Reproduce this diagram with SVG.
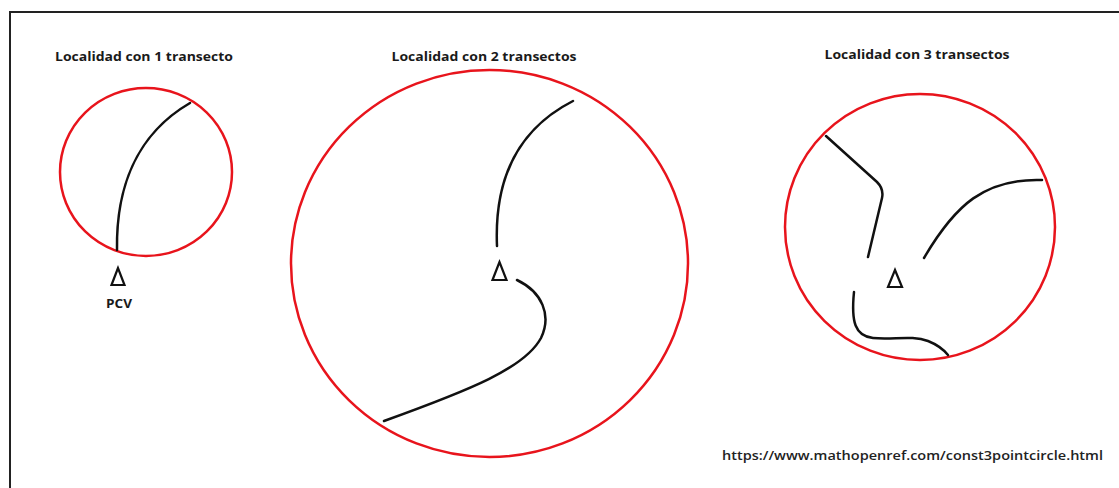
<svg xmlns="http://www.w3.org/2000/svg" width="1119" height="488" viewBox="0 0 1119 488">
<style>
.zone{fill:none;stroke:#e8141c;stroke-width:2.5}
.tr{fill:none;stroke:#111;stroke-width:2.5;stroke-linecap:round;stroke-linejoin:round}
.pcv{fill:none;stroke:#111;stroke-width:2.2;stroke-linejoin:miter}
.title{font-family:"Open Sans","Liberation Sans",sans-serif;font-weight:700;font-size:12.5px;fill:#1a1a1a}
.url{font-family:"Open Sans","Liberation Sans",sans-serif;font-weight:600;font-size:13px;fill:#222}
</style>
<rect width="1119" height="488" fill="#fff"/>
<rect x="10" y="12" width="1120" height="490" fill="none" stroke="#222" stroke-width="2"/>
<g id="loc1">
<text class="title" x="144" y="61" text-anchor="middle" textLength="178" lengthAdjust="spacingAndGlyphs">Localidad con 1 transecto</text>
<ellipse class="zone" cx="146" cy="172" rx="86" ry="84"/>
<polygon class="pcv" points="118,268 111.5,285 124.5,285"/>
<text class="title" x="119" y="308" text-anchor="middle" style="font-size:13px" textLength="26" lengthAdjust="spacingAndGlyphs">PCV</text>
</g>
<g id="loc2">
<text class="title" x="484" y="61" text-anchor="middle" textLength="185" lengthAdjust="spacingAndGlyphs">Localidad con 2 transectos</text>
<ellipse class="zone" cx="489.5" cy="263.5" rx="198.5" ry="193.5"/>
<polygon class="pcv" points="499.5,262 492.5,280 506.5,280"/>
</g>
<g id="loc3">
<text class="title" x="917" y="59" text-anchor="middle" textLength="185" lengthAdjust="spacingAndGlyphs">Localidad con 3 transectos</text>
<ellipse class="zone" cx="920" cy="227" rx="135" ry="133"/>
<polygon class="pcv" points="895,270 888,287 902,287"/>
</g>
<g id="connectors">
<path class="tr" d="M117,250 C116,190 135,135 190,103"/>
<path class="tr" d="M573,101 C520,128 494,175 497,246"/>
<path class="tr" d="M517,280 C542,292 552,315 541,338 C525,368 470,390 384,421"/>
<path class="tr" d="M826,136 L877,182 Q884,189 882,198 L868,257"/>
<path class="tr" d="M924,258 C955,205 985,178 1042,180"/>
<path class="tr" d="M854,292 C851,322 855,336 873,338 C893,340 912,335 928,341 C938,345 944,350 948,355"/>
</g>
<text class="url" x="722" y="460" textLength="381" lengthAdjust="spacingAndGlyphs">https://www.mathopenref.com/const3pointcircle.html</text>
</svg>
